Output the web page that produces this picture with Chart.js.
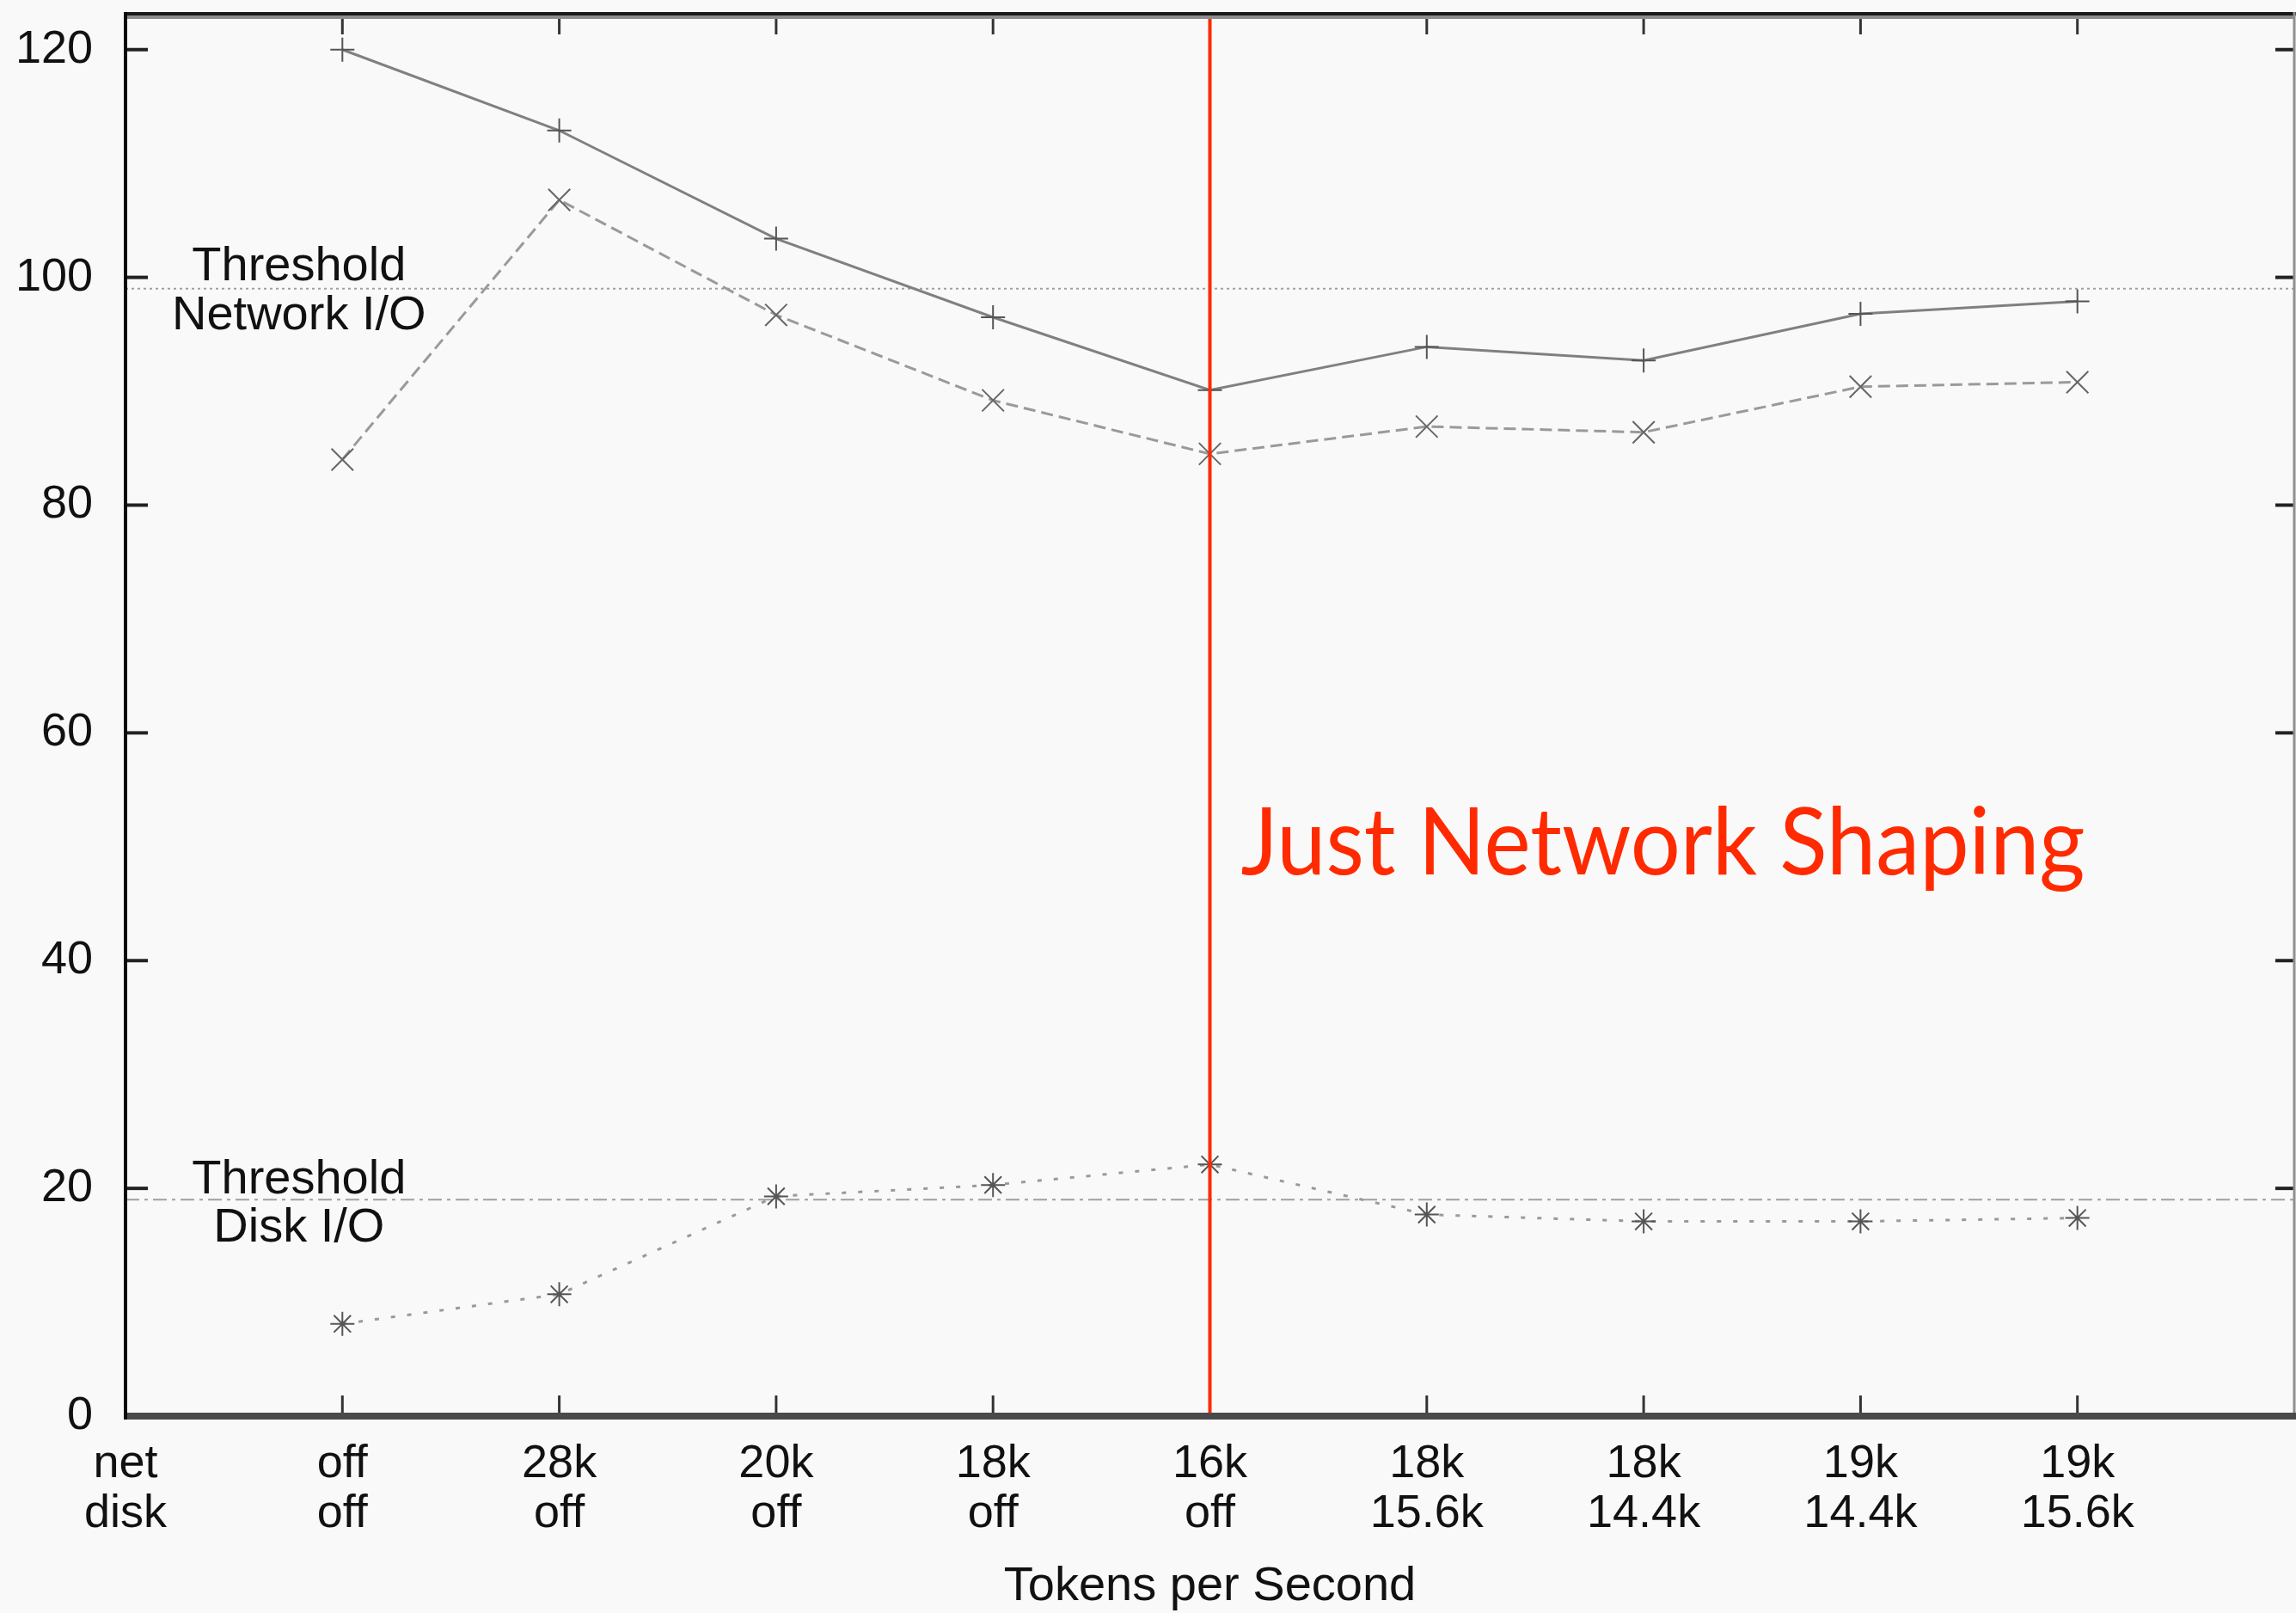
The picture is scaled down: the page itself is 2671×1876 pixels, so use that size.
<!DOCTYPE html>
<html>
<head>
<meta charset="utf-8">
<script src="https://cdn.jsdelivr.net/npm/chart.js@4.4.1/dist/chart.umd.min.js"></script>
<style>
  html, body { margin: 0; padding: 0; background: #f9f9f9; }
  canvas { display: block; }
</style>
</head>
<body>
<canvas id="tokensChart" width="2671" height="1876"></canvas>
<script>
// Etiquetas del eje X: limite de red / limite de disco
const xTickLabels = [["net", "disk"], ["off", "off"], ["28k", "off"], ["20k", "off"], ["18k", "off"],
  ["16k", "off"], ["18k", "15.6k"], ["18k", "14.4k"], ["19k", "14.4k"], ["19k", "15.6k"], ""];
const yTicks = [0, 20, 40, 60, 80, 100, 120];

// Valores (uno por configuracion, de "off/off" a "19k/15.6k")
const totalIO = [120.0, 112.9, 103.4, 96.5, 90.1, 93.9, 92.7, 96.8, 97.9];
const networkIO = [84.0, 106.8, 96.7, 89.2, 84.5, 86.9, 86.4, 90.4, 90.8];
const diskIO = [8.1, 10.7, 19.3, 20.3, 22.1, 17.7, 17.1, 17.1, 17.4];

const networkThreshold = 99;
const diskThreshold = 19;
const shapingAt = 5; // columna "16k / off"
const yMax = 123;

const toPoints = (values) => values.map((v, i) => ({ x: i + 1, y: v }));
const lastX = xTickLabels.length - 1;

const line = (ctx, x1, y1, x2, y2) => { ctx.beginPath(); ctx.moveTo(x1, y1); ctx.lineTo(x2, y2); ctx.stroke(); };

// Marcas, bordes y textos sobre el area del grafico
const marcoPlugin = {
  id: "marco",
  beforeDatasetsDraw(chart) {
    const { ctx, chartArea: a, scales: { x, y } } = chart;
    ctx.save();
    // ticks hacia adentro (debajo de las lineas)
    ctx.strokeStyle = "#222";
    ctx.lineWidth = 4;
    yTicks.forEach(v => {
      const py = y.getPixelForValue(v);
      line(ctx, a.left, py, a.left + 26, py);
      line(ctx, a.right - 22, py, a.right, py);
    });
    ctx.lineWidth = 3;
    ctx.strokeStyle = "#333";
    for (let i = 1; i < lastX; i++) {
      const px = x.getPixelForValue(i);
      line(ctx, px, a.bottom, px, a.bottom - 24);
      line(ctx, px, a.top, px, a.top + 22);
    }
    ctx.restore();
  },
  afterDatasetsDraw(chart) {
    const { ctx, chartArea: a, scales: { x, y } } = chart;
    ctx.save();

    // bordes
    ctx.strokeStyle = "#8c8c8c"; ctx.lineWidth = 4;
    line(ctx, a.left, a.top + 2, a.right, a.top + 2);
    ctx.strokeStyle = "#1a1a1a";
    line(ctx, a.left - 2, a.top - 2, a.right + 2, a.top - 2);
    ctx.strokeStyle = "#909090"; ctx.lineWidth = 3;
    line(ctx, a.right, a.top - 4, a.right, a.bottom);
    ctx.strokeStyle = "#4a4a4a"; ctx.lineWidth = 8;
    line(ctx, a.left, a.bottom, a.right + 2, a.bottom);
    ctx.strokeStyle = "#0a0a0a"; ctx.lineWidth = 4;
    line(ctx, a.left, a.top - 4, a.left, a.bottom + 4);

    // textos de los umbrales
    ctx.fillStyle = "#111";
    ctx.font = "56px 'Liberation Sans'";
    ctx.textAlign = "center";
    ctx.textBaseline = "middle";
    const tx = x.getPixelForValue(0.8);
    const ny = y.getPixelForValue(networkThreshold);
    ctx.fillText("Threshold", tx, ny - 25);
    ctx.fillText("Network I/O", tx, ny + 32);
    const dy = y.getPixelForValue(diskThreshold);
    ctx.fillText("Threshold", tx, dy - 23);
    ctx.fillText("Disk I/O", tx, dy + 33);

    // anotacion en rojo (un poco estrecha, como la original)
    ctx.fillStyle = "#ff2a00";
    ctx.font = "109px Lato";
    ctx.textAlign = "left";
    ctx.textBaseline = "alphabetic";
    ctx.translate(x.getPixelForValue(shapingAt) + 36, y.getPixelForValue(47.6));
    ctx.scale(0.94, 1);
    ctx.fillText("Just Network Shaping", 0, 0);
    ctx.restore();
  }
};

const ctx = document.getElementById("tokensChart").getContext("2d");
const tokensChart = new Chart(ctx, {
  type: "line",
  data: {
    datasets: [
      {
        label: "Just Network Shaping",
        data: [{ x: shapingAt, y: 0 }, { x: shapingAt, y: yMax }],
        borderColor: "#ff2a00",
        borderWidth: 4,
        pointRadius: 0,
      },
      {
        label: "Total",
        data: toPoints(totalIO),
        borderColor: "#808080",
        borderWidth: 3,
        pointStyle: "cross",
        pointRadius: 14,
        pointBorderColor: "#555",
        pointBorderWidth: 2,
      },
      {
        label: "Network I/O",
        data: toPoints(networkIO),
        borderColor: "#9a9a9a",
        borderWidth: 3,
        borderDash: [14, 7],
        pointStyle: "crossRot",
        pointRadius: 18,
        pointBorderColor: "#666",
        pointBorderWidth: 2,
      },
      {
        label: "Disk I/O",
        data: toPoints(diskIO),
        borderColor: "#9a9a9a",
        borderWidth: 3,
        borderDash: [5, 14],
        pointStyle: "star",
        pointRadius: 14,
        pointBorderColor: "#555",
        pointBorderWidth: 2,
      },
      {
        label: "Threshold Network I/O",
        data: [{ x: 0, y: networkThreshold }, { x: lastX, y: networkThreshold }],
        borderColor: "#a0a0a0",
        borderWidth: 2,
        borderDash: [3, 4],
        pointRadius: 0,
      },
      {
        label: "Threshold Disk I/O",
        data: [{ x: 0, y: diskThreshold }, { x: lastX, y: diskThreshold }],
        borderColor: "#a0a0a0",
        borderWidth: 2,
        borderDash: [16, 6, 4, 6],
        pointRadius: 0,
      },
    ],
  },
  options: {
    responsive: false,
    animation: false,
    devicePixelRatio: 1,
    layout: { autoPadding: false, padding: { top: 18, right: 2, left: 0, bottom: 0 } },
    plugins: {
      legend: { display: false },
      tooltip: { enabled: false },
    },
    scales: {
      x: {
        type: "linear",
        min: 0,
        max: lastX,
        afterBuildTicks: s => { s.ticks = xTickLabels.map((_, i) => ({ value: i })); },
        afterFit: s => { s.height = 229; s.paddingLeft = 0; s.paddingRight = 0; },
        grid: { display: false, drawTicks: false },
        border: { display: false },
        ticks: {
          padding: 27,
          color: "#111",
          maxRotation: 0,
          autoSkip: false,
          font: { family: "'Liberation Sans'", size: 54, lineHeight: 1.074 },
          callback: v => xTickLabels[v],
        },
        title: {
          display: true,
          text: "Tokens per Second",
          color: "#111",
          padding: { top: 0, bottom: 0 },
          font: { family: "'Liberation Sans'", size: 56, lineHeight: 1.1 },
        },
      },
      y: {
        min: 0,
        max: yMax,
        afterBuildTicks: s => { s.ticks = yTicks.map(v => ({ value: v })); },
        afterFit: s => { s.width = 146; s.paddingTop = 0; s.paddingBottom = 0; },
        grid: { display: false, drawTicks: false },
        border: { display: false },
        ticks: {
          padding: 38,
          color: "#111",
          font: { family: "'Liberation Sans'", size: 54 },
        },
      },
    },
  },
  plugins: [marcoPlugin],
});
</script>
</body>
</html>
